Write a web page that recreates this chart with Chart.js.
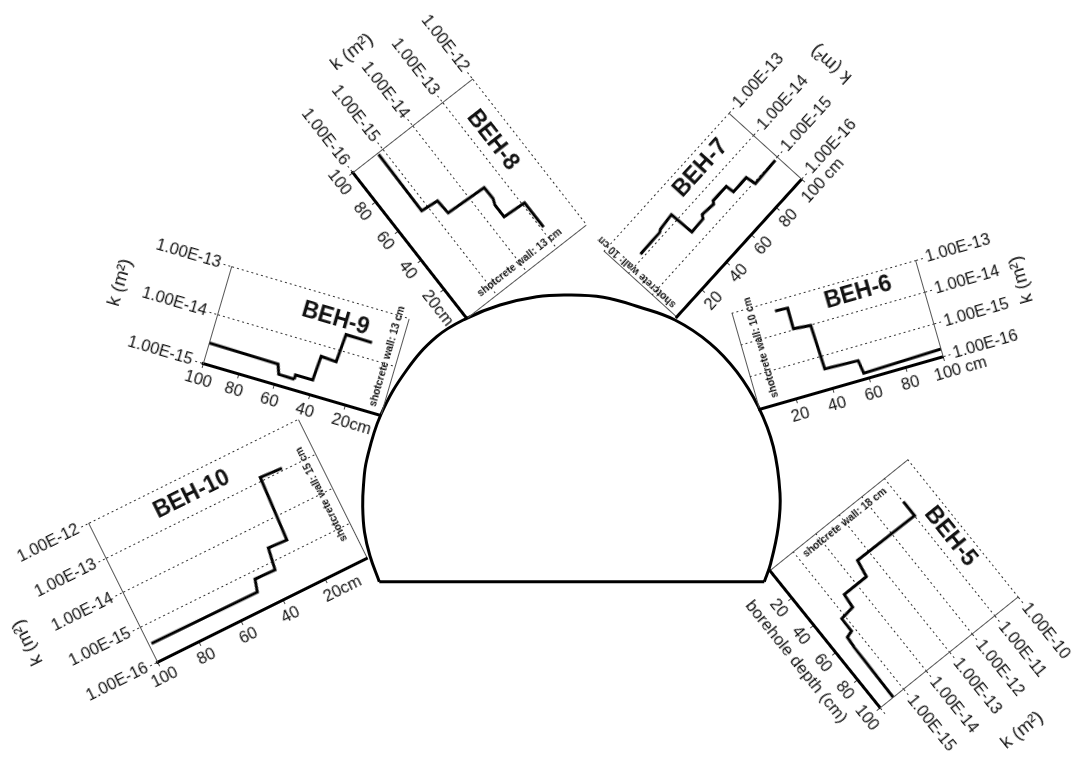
<!DOCTYPE html>
<html>
<head>
<meta charset="utf-8">
<title>BEH boreholes</title>
<script src="https://cdn.jsdelivr.net/npm/chart.js@4"></script>
<style>
	html, body { margin: 0; padding: 0; background: #fff; }
	body { position: relative; width: 1072px; height: 758px; overflow: hidden; }
	.painel { position: absolute; }
</style>
</head>
<body>
<script>
// Contorno do tunel
var tunelArcoX = [379.3, 370, 364.5, 362.7, 363.5, 366.7, 380.7, 406.7, 436.7, 466.7, 500, 536.7, 566.7, 603.3, 640, 675, 710, 736.7, 758.3, 773.3, 780, 778.3, 770.7, 764.3];
var tunelArcoY = [581.7, 556, 532, 506.7, 485, 460, 415, 370, 336.7, 318.3, 305, 296.7, 295, 297.3, 307.3, 320, 343.3, 371.7, 406.7, 446.7, 493.3, 526.7, 563.3, 581.7];
var tunelBaseX = [379.3, 764.3];
var tunelBaseY = [581.7, 581.7];

// Dados dos furos: profundidade (cm) e log10 de k (m2)
var beh5Prof = [17.2, 27.4, 26.9, 37.2, 37.3, 45.9, 47.1, 56.1, 57.3, 64, 100];
var beh5LogK = [-11, -11, -13.47, -13.58, -14.55, -14.6, -15.13, -15.14, -15.38, -15.41, -15.45];
var beh5TicksProf = [0, 20, 40, 60, 80, 100];
var beh5RotProf = ["", "20", "40", "60", "80", "100"];
var beh5TicksK = [-16, -15, -14, -13, -12, -11, -10];
var beh5RotK = ["", "1.00E-15", "1.00E-14", "1.00E-13", "1.00E-12", "1.00E-11", "1.00E-10"];

var beh6Prof = [22.2, 29, 28.9, 38.1, 38.9, 56.9, 57.9, 100];
var beh6LogK = [-13.28, -13.3, -13.95, -14, -15.38, -15.42, -15.83, -15.77];
var beh6TicksProf = [0, 20, 40, 60, 80, 100];
var beh6RotProf = ["", "20", "40", "60", "80", "      100 cm"];
var beh6TicksK = [-16, -15, -14, -13];
var beh6RotK = ["1.00E-16", "1.00E-15", "1.00E-14", "1.00E-13"];

var beh7Prof = [12.2, 27.9, 29.4, 39.1, 39.6, 48.9, 50.3, 58.5, 59.8, 70.2, 70.6, 80.9, 81.8, 98.3];
var beh7LogK = [-13.88, -13.87, -13.82, -13.77, -14.6, -14.58, -14.47, -14.52, -14.43, -14.44, -14.72, -14.71, -15.05, -15.02];
var beh7TicksProf = [0, 20, 40, 60, 80, 100];
var beh7RotProf = ["", "20", "40", "60", "80", "      100 cm"];
var beh7TicksK = [-16, -15, -14, -13];
var beh7RotK = ["1.00E-16", "1.00E-15", "1.00E-14", "1.00E-13"];

var beh8Prof = [99, 60.6, 59.6, 50.9, 49.7, 42.1, 38.6, 30.6, 29.8, 13.1];
var beh8LogK = [-15.18, -15.2, -14.71, -14.68, -13.52, -13.51, -13.58, -13.58, -12.92, -12.92];
var beh8TicksProf = [0, 20, 40, 60, 80, 100];
var beh8RotProf = ["", "     20cm", "40", "60", "80", "100"];
var beh8TicksK = [-16, -15, -14, -13, -12];
var beh8RotK = ["1.00E-16", "1.00E-15", "1.00E-14", "1.00E-13", "1.00E-12"];

var beh9Prof = [99.6, 60.9, 59, 50.1, 50.2, 40.5, 39.7, 31.1, 30.1, 15.4];
var beh9LogK = [-14.58, -14.6, -14.79, -14.8, -14.71, -14.71, -14.21, -14.23, -13.65, -13.66];
var beh9TicksProf = [0, 20, 40, 60, 80, 100];
var beh9RotProf = ["", "     20cm", "40", "60", "80", "100"];
var beh9TicksK = [-15, -14, -13];
var beh9RotK = ["1.00E-15", "1.00E-14", "1.00E-13"];

var beh10Prof = [98.6, 48.3, 46.7, 37.3, 35.7, 27.1, 25.4, 15.3];
var beh10LogK = [-15.51, -15.53, -15.2, -15.22, -14.63, -14.66, -12.9, -12.94];
var beh10TicksProf = [0, 20, 40, 60, 80, 100];
var beh10RotProf = ["", "     20cm", "40", "60", "80", "100"];
var beh10TicksK = [-16, -15, -14, -13, -12];
var beh10RotK = ["1.00E-16", "1.00E-15", "1.00E-14", "1.00E-13", "1.00E-12"];

var fonte = "'Liberation Sans', Arial, sans-serif";
var corTexto = "#111";
var corEixoFino = "#555";

var margemEixo = 130; // largura reservada para o eixo k
var margemLivre = 12;
var margemBaixo = 48;

// Escreve nome do furo, parede de concreto e titulo de k
var pluginTextos = {
	id: "textos",
	afterDraw: function (chart, args, op) {
		var ctx = chart.ctx;
		var area = chart.chartArea;
		var x = chart.scales.x;
		var y = chart.scales.y;

		ctx.save();
		ctx.fillStyle = corTexto;
		ctx.textAlign = "center";
		ctx.textBaseline = "middle";

		ctx.font = "bold 23px " + fonte;
		ctx.fillText(op.nome, x.getPixelForValue(op.nomeProf), y.getPixelForValue(Math.pow(10, op.nomeLogK)));

		ctx.save();
		ctx.translate(x.getPixelForValue(op.paredeProf), (area.top + area.bottom) / 2 - op.paredeDesvio);
		ctx.rotate(-Math.PI / 2);
		ctx.font = "bold 10.3px " + fonte;
		ctx.fillText(op.parede, 0, 0);
		ctx.restore();

		var borda = op.eixoDireita ? area.right + op.kDist : area.left - op.kDist;
		ctx.save();
		ctx.translate(borda, area.bottom - op.kAltura);
		ctx.rotate(-Math.PI / 2);
		ctx.font = "18.5px " + fonte;
		ctx.fillText("k (m²)", 0, 0);
		ctx.restore();

		ctx.restore();
	},
};

function criarPainel(esquerda, topo, largura, altura, origemX, origemY, angulo) {
	var painel = document.createElement("div");
	painel.className = "painel";
	painel.style.left = esquerda + "px";
	painel.style.top = topo + "px";
	painel.style.width = largura + "px";
	painel.style.height = altura + "px";
	painel.style.transformOrigin = origemX + "px " + origemY + "px";
	painel.style.transform = "rotate(" + angulo + "deg)";

	var canvas = document.createElement("canvas");
	canvas.width = largura;
	canvas.height = altura;
	painel.appendChild(canvas);
	document.body.appendChild(painel);
	return canvas;
}

function criarFuro(cfg) {
	var esquerdaPlot = cfg.eixoDireita ? margemLivre : margemEixo;
	var direitaPlot = cfg.eixoDireita ? margemEixo : margemLivre;
	var largura = cfg.w + esquerdaPlot + direitaPlot;
	var altura = cfg.h + margemLivre + margemBaixo;

	var canvas = criarPainel(
		cfg.cantoX - esquerdaPlot,
		cfg.cantoY - cfg.h - margemLivre,
		largura,
		altura,
		esquerdaPlot,
		cfg.h + margemLivre,
		cfg.angulo,
	);

	var pontos = [];
	for (var i = 0; i < cfg.prof.length; i++) {
		pontos.push({ x: cfg.prof[i], y: Math.pow(10, cfg.logK[i]) });
	}

	var valoresK = cfg.ticksK.map(function (v) {
		return Math.pow(10, v);
	});

	new Chart(canvas, {
		type: "scatter",
		data: {
			datasets: [
				{
					data: pontos,
					showLine: true,
					borderColor: "#000",
					borderWidth: 3,
					pointRadius: 0,
					tension: 0,
					clip: false,
					borderJoinStyle: "miter",
				},
			],
		},
		options: {
			responsive: false,
			animation: false,
			events: [],
			layout: {
				autoPadding: false,
				padding: {
					top: margemLivre,
					left: cfg.eixoDireita ? margemLivre : 0,
					right: cfg.eixoDireita ? 0 : margemLivre,
					bottom: 0,
				},
			},
			plugins: {
				legend: { display: false },
				tooltip: { enabled: false },
				textos: {
					nome: cfg.nome,
					nomeProf: cfg.nomeProf,
					nomeLogK: cfg.nomeLogK,
					parede: cfg.parede,
					paredeProf: cfg.paredeProf,
					paredeDesvio: cfg.paredeDesvio,
					eixoDireita: cfg.eixoDireita,
					kDist: cfg.kDist,
					kAltura: cfg.kAltura,
				},
			},
			scales: {
				x: {
					type: "linear",
					min: 0,
					max: 100,
					reverse: cfg.invertido,
					afterBuildTicks: function (eixo) {
						eixo.ticks = cfg.ticksProf.map(function (v) {
							return { value: v };
						});
					},
					afterFit: function (eixo) {
						eixo.height = margemBaixo;
					},
					ticks: {
						autoSkip: false,
						maxRotation: 0,
						minRotation: 0,
						padding: 3,
						color: corTexto,
						font: { family: fonte, size: 16.5 },
						callback: function (v, i) {
							return cfg.rotProf[i];
						},
					},
					grid: {
						lineWidth: 1,
						tickLength: 5,
						color: function (c) {
							return c.tick && c.tick.value === 0 ? corEixoFino : "rgba(0,0,0,0)";
						},
						tickColor: function (c) {
							return c.tick && c.tick.value === 0 ? "rgba(0,0,0,0)" : "#444";
						},
					},
					border: { color: "#000", width: 3 },
					title: {
						display: !!cfg.tituloProf,
						text: cfg.tituloProf || "",
						color: corTexto,
						padding: 0,
						font: { family: fonte, size: 17 },
					},
				},
				y: {
					type: "logarithmic",
					position: cfg.eixoDireita ? "right" : "left",
					min: valoresK[0],
					max: valoresK[valoresK.length - 1],
					afterBuildTicks: function (eixo) {
						eixo.ticks = valoresK.map(function (v) {
							return { value: v };
						});
					},
					afterFit: function (eixo) {
						eixo.width = margemEixo;
					},
					ticks: {
						autoSkip: false,
						maxRotation: 0,
						minRotation: 0,
						padding: 3,
						color: corTexto,
						font: { family: fonte, size: 16.5 },
						callback: function (v, i) {
							return cfg.rotK[i];
						},
					},
					grid: {
						lineWidth: 1,
						tickLength: 8,
						color: "#333",
						tickColor: "#333",
						tickBorderDash: [2, 3],
					},
					border: { color: corEixoFino, width: 1, dash: [2, 3] },
				},
			},
		},
		plugins: [pluginTextos],
	});
}

// Tunel: eixos ocultos na mesma escala da pagina
function criarTunel() {
	var canvas = criarPainel(0, 0, 1072, 758, 0, 0, 0);

	function juntar(xs, ys) {
		return xs.map(function (v, i) {
			return { x: v, y: ys[i] };
		});
	}

	new Chart(canvas, {
		type: "scatter",
		data: {
			datasets: [
				{
					data: juntar(tunelArcoX, tunelArcoY),
					showLine: true,
					borderColor: "#000",
					borderWidth: 3,
					pointRadius: 0,
					tension: 0.4,
				},
				{
					data: juntar(tunelBaseX, tunelBaseY),
					showLine: true,
					borderColor: "#000",
					borderWidth: 3,
					pointRadius: 0,
				},
			],
		},
		options: {
			responsive: false,
			animation: false,
			events: [],
			plugins: { legend: { display: false }, tooltip: { enabled: false } },
			scales: {
				x: { type: "linear", min: 0, max: 1072, display: false },
				y: { type: "linear", min: 0, max: 758, reverse: true, display: false },
			},
		},
	});
}

criarTunel();

criarFuro({
	nome: "BEH-8", nomeProf: 67, nomeLogK: -12.58,
	parede: "shotcrete wall: 13 cm", paredeProf: 5.7, paredeDesvio: 0,
	prof: beh8Prof, logK: beh8LogK, ticksProf: beh8TicksProf, rotProf: beh8RotProf, ticksK: beh8TicksK, rotK: beh8RotK,
	cantoX: 353, cantoY: 172, angulo: 52, w: 185, h: 152,
	invertido: true, eixoDireita: false, kDist: 95, kAltura: 73,
});
criarFuro({
	nome: "BEH-7", nomeProf: 68.1, nomeLogK: -13.5,
	parede: "shotcrete wall: 10 cm", paredeProf: 4, paredeDesvio: 12,
	prof: beh7Prof, logK: beh7LogK, ticksProf: beh7TicksProf, rotProf: beh7RotProf, ticksK: beh7TicksK, rotK: beh7RotK,
	cantoX: 676, cantoY: 316.7, angulo: -47.8, w: 186, h: 98,
	invertido: false, eixoDireita: true, kDist: 106, kAltura: 55,
});
criarFuro({
	nome: "BEH-6", nomeProf: 66.7, nomeLogK: -13.46,
	parede: "shotcrete wall: 10 cm", paredeProf: 10, paredeDesvio: 9,
	prof: beh6Prof, logK: beh6LogK, ticksProf: beh6TicksProf, rotProf: beh6RotProf, ticksK: beh6TicksK, rotK: beh6RotK,
	cantoX: 759.3, cantoY: 409.3, angulo: -16, w: 191, h: 100,
	invertido: false, eixoDireita: true, kDist: 97, kAltura: 52,
});
criarFuro({
	nome: "BEH-5", nomeProf: 49.5, nomeLogK: -10.51,
	parede: "shotcrete wall: 18 cm", paredeProf: 6, paredeDesvio: 0,
	prof: beh5Prof, logK: beh5LogK, ticksProf: beh5TicksProf, rotProf: beh5RotProf, ticksK: beh5TicksK, rotK: beh5RotK,
	tituloProf: "borehole depth (cm)",
	cantoX: 770, cantoY: 570, angulo: 51.2, w: 176, h: 177,
	invertido: false, eixoDireita: true, kDist: 107, kAltura: 96,
});
criarFuro({
	nome: "BEH-10", nomeProf: 54.9, nomeLogK: -12.52,
	parede: "shotcrete wall: 15 cm", paredeProf: 5, paredeDesvio: 0,
	prof: beh10Prof, logK: beh10LogK, ticksProf: beh10TicksProf, rotProf: beh10RotProf, ticksK: beh10TicksK, rotK: beh10RotK,
	cantoX: 157.3, cantoY: 661.7, angulo: -26.4, w: 234, h: 155,
	invertido: true, eixoDireita: false, kDist: 107, kAltura: 75,
});
criarFuro({
	nome: "BEH-9", nomeProf: 38, nomeLogK: -13.41,
	parede: "shotcrete wall: 13 cm", paredeProf: 5.5, paredeDesvio: 8,
	prof: beh9Prof, logK: beh9LogK, ticksProf: beh9TicksProf, rotProf: beh9RotProf, ticksK: beh9TicksK, rotK: beh9RotK,
	cantoX: 202.7, cantoY: 363.3, angulo: 16.3, w: 185, h: 101,
	invertido: true, eixoDireita: false, kDist: 102, kAltura: 54,
});
</script>
</body>
</html>
